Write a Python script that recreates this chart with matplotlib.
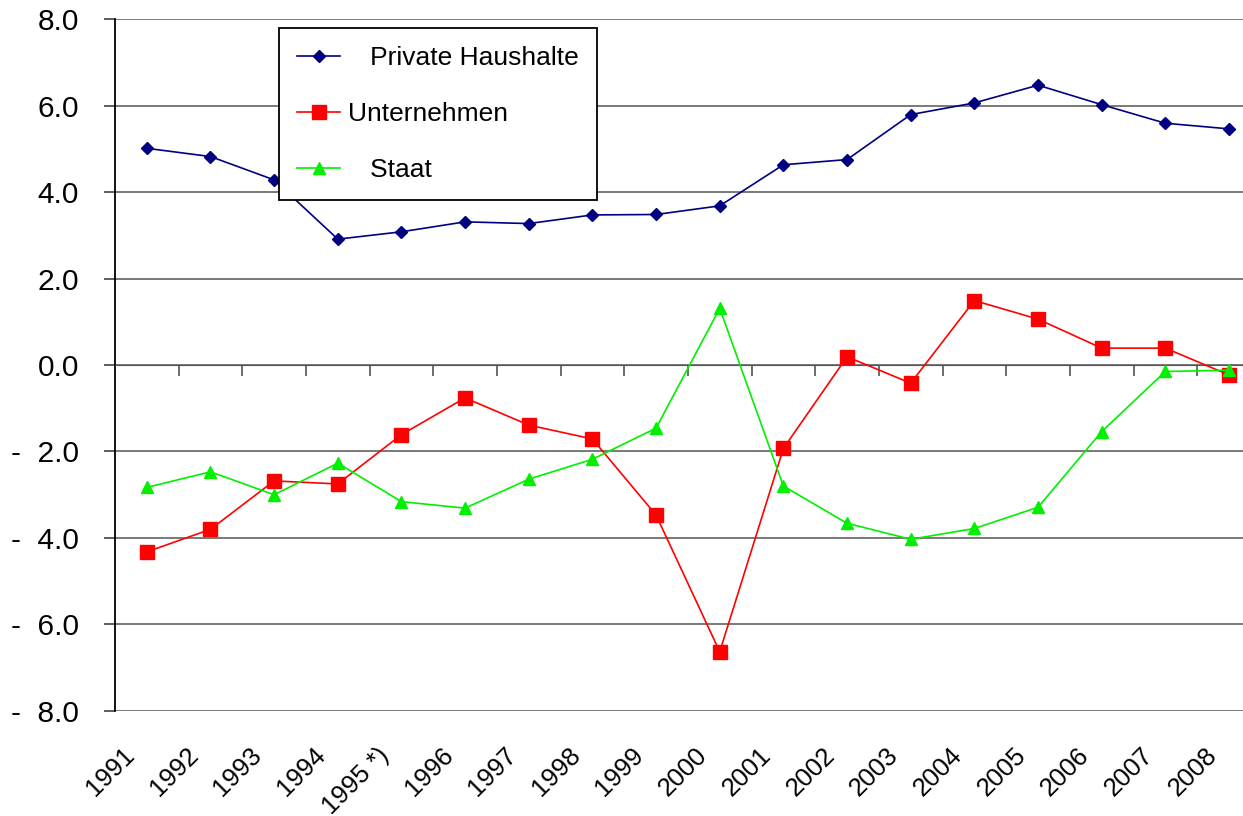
import numpy as np
from matplotlib import pyplot as plt

plt.rcParams['font.family'] = ['Liberation Sans', 'DejaVu Sans']

# Daten (Finanzierungssalden, in % )
jahre = ['1991', '1992', '1993', '1994', '1995 *)', '1996', '1997', '1998',
         '1999', '2000', '2001', '2002', '2003', '2004', '2005', '2006',
         '2007', '2008']
haushalte = [5.01, 4.82, 4.28, 2.91, 3.08, 3.31, 3.27, 3.47, 3.48, 3.68,
             4.63, 4.75, 5.79, 6.06, 6.47, 6.02, 5.59, 5.46]
unternehmen = [-4.32, -3.80, -2.68, -2.75, -1.61, -0.76, -1.39, -1.71,
               -3.47, -6.63, -1.93, 0.19, -0.42, 1.49, 1.06, 0.39, 0.39,
               -0.23]
staat = [-2.83, -2.47, -3.00, -2.27, -3.16, -3.31, -2.64, -2.18, -1.46,
         1.31, -2.80, -3.66, -4.03, -3.78, -3.29, -1.54, -0.15, -0.12]
y_ticks = [8, 6, 4, 2, 0, -2, -4, -6, -8]
y_labels = ['8.0', '6.0', '4.0', '2.0', '0.0',
            '-  2.0', '-  4.0', '-  6.0', '-  8.0']

x = np.arange(len(jahre))

fig = plt.figure(figsize=(12.43, 8.16), dpi=100)
ax = fig.add_axes([0.0925, 0.1287, 0.9075, 0.848])

# Gitterlinien
for yv in y_ticks:
    ax.axhline(yv, color='#555555', lw=1.1, zorder=1)

l1, = ax.plot(x, haushalte, color='#000080', lw=1.2, marker='D', ms=6.5,
              zorder=3, label='   Private Haushalte')
l2, = ax.plot(x, unternehmen, color='#ff0000', lw=1.2, marker='s', ms=10,
              zorder=3, label='Unternehmen')
l3, = ax.plot(x, staat, color='#00f000', lw=1.2, marker='^', ms=8.5,
              zorder=3, label='   Staat')

ax.set_yticks(y_ticks)
ax.set_yticklabels(y_labels, fontsize=21.5)
ax.tick_params(axis='y', length=8, width=1.1, color='#333333', pad=18)

for s in ['top', 'right']:
    ax.spines[s].set_visible(False)
ax.spines['left'].set_color('black')
ax.spines['left'].set_linewidth(1.3)
ax.spines['bottom'].set_position(('data', 0))
ax.spines['bottom'].set_color('#555555')
ax.set_xticks(x + 0.5)
ax.tick_params(axis='x', length=8, width=1.1, color='#444444',
               labelbottom=False)

# Jahresbeschriftung unten, schraeg
sec = ax.secondary_xaxis(0)
sec.set_xticks(x - 0.25)
sec.set_xticklabels(jahre, fontsize=18.5, rotation=45, ha='right',
                    va='center', rotation_mode='anchor')
sec.tick_params(length=0, pad=29)
sec.spines['bottom'].set_visible(False)

ax.set_xlim(-0.5, 17.22)
ax.set_ylim(-8, 8)

leg = ax.legend(handles=[l1, l2, l3], loc='upper left',
                bbox_to_anchor=(279 / 1243, 1 - 28 / 816),
                bbox_transform=fig.transFigure, fontsize=19,
                frameon=True, fancybox=False, framealpha=1,
                edgecolor='black', handlelength=1.6, handletextpad=0.3,
                labelspacing=1.2, borderpad=0.7, borderaxespad=0)
leg.get_frame().set_linewidth(1.3)
leg.set_zorder(5)

fig.savefig('out.png', dpi=100)
